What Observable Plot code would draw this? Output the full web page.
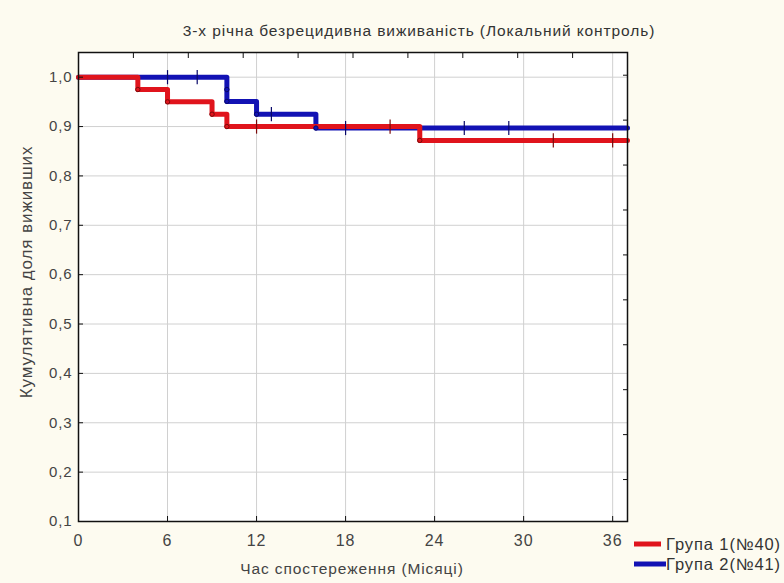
<!DOCTYPE html>
<html>
<head>
<meta charset="utf-8">
<script src="https://cdn.jsdelivr.net/npm/d3@7"></script>
<script src="https://cdn.jsdelivr.net/npm/@observablehq/plot@0.6"></script>
<style>
  html, body { margin: 0; padding: 0; background: #fdfbf0; overflow: hidden; }
  svg text { letter-spacing: 0.9px; }
</style>
</head>
<body>
<div id="chart"></div>
<script>
const title = "3-х річна безрецидивна виживаність (Локальний контроль)";
const xTitle = "Час спостереження (Місяці)";
const yTitle = "Кумулятивна доля виживших";
const seriesNames = ["Група 1(№40)", "Група 2(№41)"];
const seriesColors = ["#e0141c", "#1212b4"];

// Kaplan-Meier steps
const group1Time = [0, 4, 6, 9, 10, 23, 37];
const group1Surv = [1.0, 0.975, 0.95, 0.925, 0.90, 0.872, 0.872];
const group2Time = [0, 10, 12, 16, 37];
const group2Surv = [1.0, 0.951, 0.925, 0.897, 0.897];

// complete (event) markers
const group1EventTime = [4, 6, 9, 10, 23];
const group1EventSurv = [0.975, 0.95, 0.925, 0.90, 0.872];
const group2EventTime = [10, 10, 12, 16];
const group2EventSurv = [0.975, 0.951, 0.925, 0.897];

// censored markers
const group1CensorTime = [12, 21, 32, 36];
const group1CensorSurv = [0.90, 0.90, 0.872, 0.872];
const group2CensorTime = [6, 8, 13, 18, 26, 29];
const group2CensorSurv = [1.0, 1.0, 0.925, 0.897, 0.897, 0.897];

const xTicks = [0, 6, 12, 18, 24, 30, 36];
const yTicks = [0.1, 0.2, 0.3, 0.4, 0.5, 0.6, 0.7, 0.8, 0.9, 1.0];
const topTicks = [3.7, 7.4, 11.1, 14.8, 18.5, 22.2, 25.9, 29.6, 33.3];
const rightTicks = [1.004, 0.913, 0.822, 0.731, 0.640, 0.549, 0.458, 0.367, 0.276, 0.185];

const zip = (t, s) => t.map((x, i) => ({t: x, s: s[i]}));
const g1 = zip(group1Time, group1Surv);
const g2 = zip(group2Time, group2Surv);
const e1 = zip(group1EventTime, group1EventSurv);
const e2 = zip(group2EventTime, group2EventSurv);
const c1 = zip(group1CensorTime, group1CensorSurv);
const c2 = zip(group2CensorTime, group2CensorSurv);

const vbar = {draw(ctx, size) { const h = Math.sqrt(size); ctx.moveTo(0, -h); ctx.lineTo(0, h); }};
const fmt = d => d.toFixed(1).replace(".", ",");
const none = () => "";

const chart = Plot.plot({
  width: 784,
  height: 583,
  marginLeft: 78,
  marginRight: 157,
  marginTop: 52,
  marginBottom: 62,
  style: {background: "#fdfbf0", fontFamily: "Liberation Sans, Arial, sans-serif", fontSize: "15px", color: "#333"},
  x: {domain: [0, 37]},
  y: {domain: [0.1, 1.05]},
  marks: [
    Plot.frame({fill: "white", stroke: "none"}),
    Plot.gridX(xTicks.slice(1), {stroke: "#d0d0d0", strokeOpacity: 1}),
    Plot.gridY(yTicks.slice(1), {stroke: "#d0d0d0", strokeOpacity: 1}),
    Plot.line(g2, {x: "t", y: "s", curve: "step-after", stroke: seriesColors[1], strokeWidth: 5}),
    Plot.line(g1, {x: "t", y: "s", curve: "step-after", stroke: seriesColors[0], strokeWidth: 5}),
    Plot.dot(c2, {x: "t", y: "s", symbol: vbar, r: 4, stroke: "#08086a", strokeWidth: 1.2}),
    Plot.dot(c1, {x: "t", y: "s", symbol: vbar, r: 4, stroke: "#7a0a0a", strokeWidth: 1.2}),
    Plot.dot(e2, {x: "t", y: "s", r: 2.2, stroke: "#08086a", strokeWidth: 1, fill: seriesColors[1]}),
    Plot.dot(e1, {x: "t", y: "s", r: 2.2, stroke: "#7a0a0a", strokeWidth: 1, fill: seriesColors[0]}),
    Plot.frame({stroke: "#111", strokeWidth: 1.5}),
    Plot.axisX({ticks: xTicks, tickSize: 0, tickPadding: 13, label: null, fill: "#444", fontSize: 16}),
    Plot.axisY({ticks: yTicks, tickSize: 0, tickPadding: 6, tickFormat: fmt, label: null, fill: "#444", fontSize: 15}),
    Plot.axisX({anchor: "bottom", ticks: xTicks, tickSize: -5, tickFormat: none, label: null, stroke: "#111"}),
    Plot.axisY({anchor: "left", ticks: yTicks, tickSize: -5, tickFormat: none, label: null, stroke: "#111"}),
    Plot.axisX({anchor: "top", ticks: topTicks, tickSize: -5, tickFormat: none, label: null, stroke: "#111"}),
    Plot.axisY({anchor: "right", ticks: rightTicks, tickSize: -5, tickFormat: none, label: null, stroke: "#111"})
  ]
});

document.getElementById("chart").appendChild(chart);
const svg = d3.select(chart);

svg.append("text").attr("x", 419).attr("y", 36).attr("text-anchor", "middle")
  .attr("font-size", 15.5).attr("fill", "#333").text(title);
svg.append("text").attr("x", 352).attr("y", 574).attr("text-anchor", "middle")
  .attr("font-size", 15.5).attr("fill", "#444").text(xTitle);
svg.append("text").attr("transform", "translate(32,272) rotate(-90)").attr("text-anchor", "middle")
  .attr("font-size", 17).attr("letter-spacing", "1.4px").attr("fill", "#444").text(yTitle);

const leg = svg.append("g");
seriesNames.forEach((name, i) => {
  const y = 544 + i * 20;
  leg.append("line").attr("x1", 634).attr("x2", i === 0 ? 661 : 666).attr("y1", y).attr("y2", y)
    .attr("stroke", seriesColors[i]).attr("stroke-width", 5);
  leg.append("text").attr("x", 666).attr("y", y + 5.5).attr("text-anchor", "start")
    .attr("font-size", 16.5).attr("fill", "#333").text(name);
});
</script>
</body>
</html>
